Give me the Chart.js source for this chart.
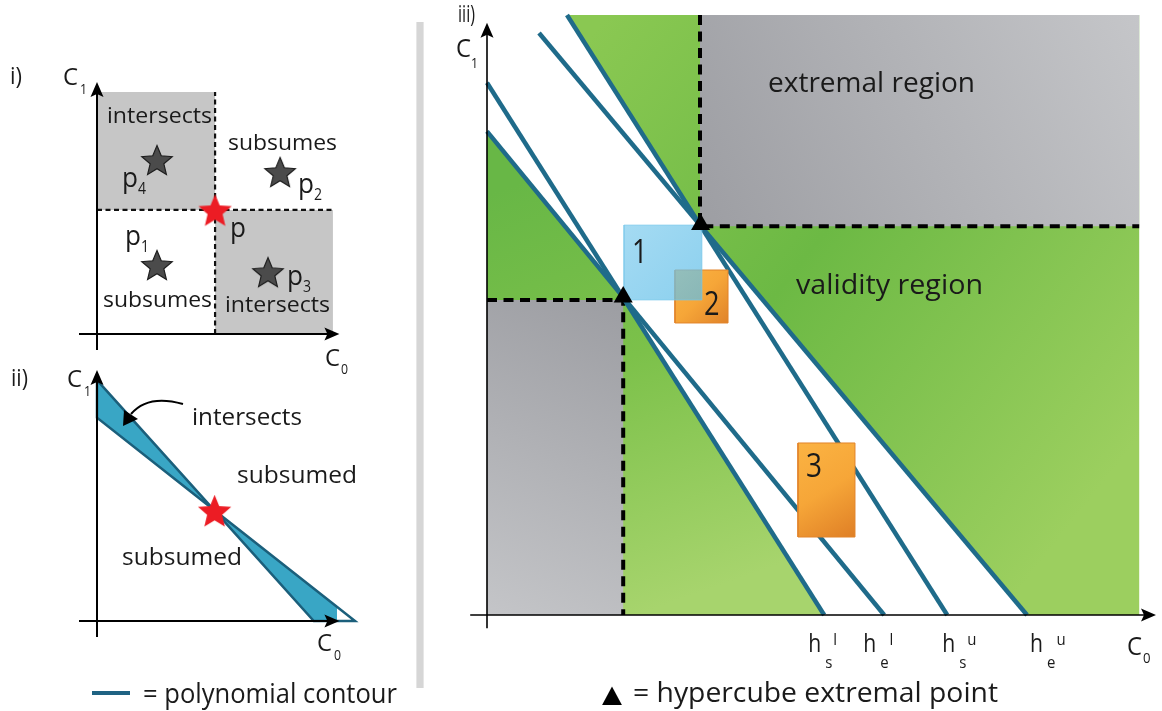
<!DOCTYPE html>
<html><head><meta charset="utf-8">
<script src="https://cdn.jsdelivr.net/npm/chart.js@4.4.1/dist/chart.umd.min.js"></script>
<style>
html,body{margin:0;padding:0;background:#fff;}
body{width:1162px;height:711px;position:relative;overflow:hidden;}
canvas{position:absolute;left:0;top:0;}
</style></head><body>
<canvas id="cI" width="1162" height="711"></canvas>
<canvas id="cII" width="1162" height="711"></canvas>
<canvas id="cIII" width="1162" height="711"></canvas>
<script>
// ===================== DATA =====================
// ---- Panel i (C0 x C1 plane) ----
const iPoint = [[4.92, 5.17]];                       // red star p
const iStarNames = ['p4', 'p2', 'p1', 'p3'];
const iStarX = [2.5, 7.63, 2.5, 7.125];
const iStarY = [7.25, 6.75, 2.875, 2.58];
const iGreyTopLeft = [[0, 5.17], [4.92, 5.17], [4.92, 10.08], [0, 10.08]];
const iGreyBottomRight = [[4.92, 0], [9.83, 0], [9.83, 5.17], [4.92, 5.17]];
const iDashV = [[4.92, 0], [4.92, 10.08]];
const iDashH = [[0, 5.17], [9.83, 5.17]];
const iRegionLabels = ['intersects', 'subsumes', 'subsumes', 'intersects'];
const iAxisX = [-0.75, 10.1];
const iAxisY = [-0.67, 10.5];

// ---- Panel ii ----
const iiUpperWedge = [[0, 10.04], [0, 8.47], [4.85, 4.65]];
const iiLowerWedge = [[4.85, 4.65], [9.034, 0], [10.75, 0]];
const iiPoint = [[4.9, 4.6]];
const iiAxisX = [-0.75, 10.1];
const iiAxisY = [-0.67, 10.46];

// ---- Panel iii ----
const hTickValues = [5.62, 6.62, 7.67, 9.0];
const hTickSub = ['s', 'e', 's', 'e'];
const hTickSup = ['l', 'l', 'u', 'u'];
const contourSl = [[0, 8.87], [5.62, 0]];
const contourEl = [[0, 8.06], [6.62, 0]];
const contourSu = [[1.333, 10], [7.67, 0]];
const contourEu = [[0.867, 9.7], [9.0, 0]];
const extremalPoints = [[2.27, 5.3], [3.56, 6.51]];
const validLower = [[0, 8.06], [2.25, 5.32], [5.62, 0], [0, 0]];
const validUpper = [[1.333, 10], [10.87, 10], [10.87, 0], [9.0, 0], [3.55, 6.5]];
const extremalUpper = [[3.55, 6.48], [10.87, 6.48], [10.87, 10], [3.55, 10]];
const extremalLower = [[0, 0], [2.27, 0], [2.27, 5.25], [0, 5.25]];
const dashLower = [[0, 5.25], [2.27, 5.25], [2.27, 0]];
const dashUpper = [[3.55, 10], [3.55, 6.48], [10.87, 6.48]];
const box1 = [[2.283, 5.25], [3.583, 5.25], [3.583, 6.5], [2.283, 6.5]];
const box2 = [[3.133, 4.867], [4.017, 4.867], [4.017, 5.75], [3.133, 5.75]];
const box3 = [[5.183, 1.3], [6.133, 1.3], [6.133, 2.867], [5.183, 2.867]];
const boxLabels = ['1', '2', '3'];
const iiiAxisX = [-0.28, 11.15];
const iiiAxisY = [-0.22, 9.87];

// ===================== HELPERS =====================
const W = 1162, H = 711;
const FONT = '"Open Sans","Noto Sans","DejaVu Sans",sans-serif';
const P = a => a.map(([x, y]) => ({x, y}));

function T(c, s, x, y, size, o = {}) {
  c.save();
  c.font = `${size}px ${o.font || FONT}`;
  c.fillStyle = o.color || '#1a1a1a';
  c.textAlign = 'left'; c.textBaseline = 'alphabetic';
  const m = c.measureText(s).width;
  const sx = o.w ? o.w / m : (o.sx || 0.88);
  c.translate(x, y); c.scale(sx, 1); c.fillText(s, 0, 0);
  c.restore();
  return x + m * sx;
}

function grad(stops, p0, p1) {
  return (ctx) => {
    const ch = ctx.chart;
    if (!ch.chartArea) return stops[0][1];
    const xs = ch.scales.x, ys = ch.scales.y;
    const g = ch.ctx.createLinearGradient(xs.getPixelForValue(p0[0]), ys.getPixelForValue(p0[1]),
                                          xs.getPixelForValue(p1[0]), ys.getPixelForValue(p1[1]));
    stops.forEach(([o, col]) => g.addColorStop(o, col));
    return g;
  };
}

function poly(pts, bg, extra = {}) {
  return Object.assign({data: P([...pts, pts[0]]), showLine: true, fill: 'shape', backgroundColor: bg,
    borderWidth: 0, borderColor: 'rgba(0,0,0,0)', pointRadius: 0, clip: false, tension: 0}, extra);
}
function line(pts, color, width, dash, extra = {}) {
  return Object.assign({data: P(pts), showLine: true, fill: false, borderColor: color, borderWidth: width,
    borderDash: dash || [], pointRadius: 0, clip: false, tension: 0, borderCapStyle: 'butt'}, extra);
}
function pts(data, style, radius, color, extra = {}) {
  return Object.assign({data: P(data), showLine: false, pointStyle: style, pointRadius: radius,
    backgroundColor: color, borderWidth: 0, clip: false}, extra);
}

function starImg(R, fill, stroke, ratio = 0.45) {
  const s = Math.ceil(2 * R + 4), cv = document.createElement('canvas');
  cv.width = cv.height = s;
  const g = cv.getContext('2d');
  g.translate(s / 2, s / 2 + R * 0.1);
  g.beginPath();
  for (let i = 0; i < 10; i++) {
    const r = i % 2 ? R * ratio : R, a = -Math.PI / 2 + i * Math.PI / 5;
    g.lineTo(r * Math.cos(a), r * Math.sin(a));
  }
  g.closePath(); g.fillStyle = fill; g.fill();
  if (stroke) { g.strokeStyle = stroke; g.lineWidth = 1.2; g.stroke(); }
  return cv;
}

function axes(c, chart, ax, ay, lw) {
  const xs = chart.scales.x, ys = chart.scales.y;
  const x0 = xs.getPixelForValue(0), y0 = ys.getPixelForValue(0);
  const xl = xs.getPixelForValue(ax[0]), xr = xs.getPixelForValue(ax[1]);
  const yb = ys.getPixelForValue(ay[0]), yt = ys.getPixelForValue(ay[1]);
  c.save(); c.strokeStyle = '#000'; c.fillStyle = '#000'; c.lineWidth = lw;
  c.beginPath(); c.moveTo(xl, y0); c.lineTo(xr - 8, y0); c.moveTo(x0, yb); c.lineTo(x0, yt + 8); c.stroke();
  const L = 15, Wd = 6.5;
  c.beginPath(); c.moveTo(xr, y0); c.lineTo(xr - L, y0 - Wd); c.lineTo(xr - L + 3, y0); c.lineTo(xr - L, y0 + Wd); c.closePath(); c.fill();
  c.beginPath(); c.moveTo(x0, yt); c.lineTo(x0 - Wd, yt + L); c.lineTo(x0, yt + L - 3); c.lineTo(x0 + Wd, yt + L); c.closePath(); c.fill();
  c.restore();
}

function layer(datasets) { const n = datasets.length; datasets.forEach((d, i) => d.order = n - i); return datasets; }

function make(id, datasets, area, xr, yr, plugin) {
  return new Chart(document.getElementById(id), {
    type: 'scatter',
    data: {datasets: layer(datasets)},
    options: {
      responsive: false, animation: false, events: [],
      layout: {padding: {left: area[0], top: area[1], right: W - area[2], bottom: H - area[3]}},
      scales: {x: {type: 'linear', min: xr[0], max: xr[1], display: false},
               y: {type: 'linear', min: yr[0], max: yr[1], display: false}},
      plugins: {legend: {display: false}, tooltip: {enabled: false}}
    },
    plugins: [plugin]
  });
}

// ===================== PANEL i =====================
const darkStar = starImg(16, '#4b4b4b', '#1e1e1e');
const redStar = starImg(17.5, '#ec1c24', null);
make('cI', [
  poly(iGreyTopLeft, '#c6c6c6'),
  poly(iGreyBottomRight, '#c6c6c6'),
  line(iDashV, '#111', 2.2, [5, 3.5]),
  line(iDashH, '#111', 2.2, [5, 3.5]),
  pts(iStarX.map((x, i) => [x, iStarY[i]]), darkStar, 10, '#4b4b4b'),
  pts(iPoint, redStar, 10, '#ec1c24')
], [97, 82, 337, 334], [0, 10], [0, 10.5], {
  id: 'panelI',
  afterDatasetsDraw(chart) {
    const c = chart.ctx, xs = chart.scales.x, ys = chart.scales.y;
    axes(c, chart, iAxisX, iAxisY, 2);
    T(c, 'i)', 10, 84, 23, {w: 12});
    T(c, 'C', 63, 85, 23, {w: 15}); T(c, '1', 80, 94, 14);
    T(c, 'C', 325, 366, 24, {w: 15}); T(c, '0', 341, 374, 14);
    T(c, iRegionLabels[0], 107, 123, 21, {w: 105});
    T(c, iRegionLabels[1], 228, 150, 21, {w: 109});
    T(c, iRegionLabels[2], 103, 307, 21, {w: 109});
    T(c, iRegionLabels[3], 225, 312, 21, {w: 105});
    const off = [[-35, 27], [18, 21], [-32, -20], [19, 13]];
    iStarNames.forEach((nm, i) => {
      const px = xs.getPixelForValue(iStarX[i]) + off[i][0], py = ys.getPixelForValue(iStarY[i]) + off[i][1];
      const e = T(c, nm[0], px, py, 27, {w: 16});
      T(c, nm.slice(1), e, py + 7, 16);
    });
    T(c, 'p', xs.getPixelForValue(iPoint[0][0]) + 15, ys.getPixelForValue(iPoint[0][1]) + 27, 27, {w: 16});
  }
});

// ===================== PANEL ii =====================
const wedgeStyle = {borderColor: '#1b5f7b', borderWidth: 2.5, borderJoinStyle: 'miter'};
make('cII', [
  poly(iiUpperWedge, '#39a6c5', wedgeStyle),
  poly(iiLowerWedge, '#39a6c5', wedgeStyle),
  pts(iiPoint, redStar, 10, '#ec1c24')
], [97, 369, 337, 621], [0, 10], [0, 10.5], {
  id: 'panelII',
  afterDatasetsDraw(chart) {
    const c = chart.ctx;
    axes(c, chart, iiAxisX, iiAxisY, 2);
    T(c, 'ii)', 11, 386, 23, {w: 17});
    T(c, 'C', 67, 387, 23, {w: 15}); T(c, '1', 84, 396, 14);
    T(c, 'C', 317, 651, 24, {w: 15}); T(c, '0', 334, 660, 14);
    T(c, 'intersects', 192, 425, 24, {w: 110});
    T(c, 'subsumed', 237, 483, 24, {w: 120});
    T(c, 'subsumed', 122, 565, 24, {w: 120});
    // curved arrow
    c.save(); c.strokeStyle = '#000'; c.fillStyle = '#000'; c.lineWidth = 2;
    c.beginPath(); c.moveTo(183, 404); c.quadraticCurveTo(148, 394, 131, 414); c.stroke();
    c.beginPath(); c.moveTo(123, 426); c.lineTo(124, 410); c.lineTo(138, 419); c.closePath(); c.fill();
    c.restore();
    // legend
    c.save(); c.strokeStyle = '#1f6383'; c.lineWidth = 4;
    c.beginPath(); c.moveTo(92, 693); c.lineTo(130, 693); c.stroke(); c.restore();
    T(c, '= polynomial contour', 143, 703, 27, {w: 254});
  }
});

// ===================== PANEL iii =====================
const greenLow = grad([[0, '#a7d46d'], [0.55, '#7cc14a'], [1, '#68b746']], [2.5, 0], [0, 7]);
const greenUp = grad([[0, '#8ac852'], [0.45, '#6cb944'], [1, '#9ccf5f']], [2, 10], [10.9, 3]);
const greyUp = grad([[0, '#9d9ea3'], [1, '#c5c6c9']], [3.6, 6.5], [10.9, 10]);
const greyLow = grad([[0, '#c4c5c8'], [1, '#9c9da2']], [0, 0], [2.3, 5.3]);
const orange2 = grad([[0, '#fbb343'], [0.5, '#f6a638'], [1, '#e0832a']], [3.133, 5.75], [4.017, 4.867]);
const orange3 = grad([[0, '#fbb343'], [0.5, '#f6a638'], [1, '#df7f26']], [5.183, 2.867], [6.133, 1.3]);
const blueBox = grad([[0, 'rgba(130,205,238,0.72)'], [1, 'rgba(95,190,232,0.72)']], [2.283, 6.5], [3.583, 5.25]);
const CONTOUR = '#1f6b8a';
const boxBorder = {borderColor: '#e2842b', borderWidth: 1};

make('cIII', [
  poly(validLower, greenLow),
  poly(validUpper, greenUp),
  poly(extremalLower, greyLow),
  poly(extremalUpper, greyUp),
  line(dashLower, '#000', 4, [10, 6.5]),
  line(dashUpper, '#000', 4, [10, 6.5]),
  line(contourSl, CONTOUR, 4.5),
  line(contourEl, CONTOUR, 4.5),
  line(contourSu, CONTOUR, 4.5),
  line(contourEu, CONTOUR, 4.5),
  poly(box2, orange2, boxBorder),
  poly(box1, blueBox, {borderColor: 'rgba(120,200,235,0.6)', borderWidth: 1}),
  poly(box3, orange3, boxBorder),
  pts(extremalPoints, 'triangle', 11, '#000')
], [487, 15, 1147, 615], [0, 11], [0, 10], {
  id: 'panelIII',
  afterDatasetsDraw(chart) {
    const c = chart.ctx, xs = chart.scales.x;
    // separator bar
    c.save(); c.fillStyle = '#d6d6d6'; c.fillRect(417, 22, 6, 666);
    c.fillStyle = '#e6e6e6'; c.fillRect(416, 22, 1, 666); c.fillRect(423, 22, 1, 666); c.restore();
    axes(c, chart, iiiAxisX, iiiAxisY, 1.6);
    T(c, 'iii)', 458, 22, 23, {w: 17});
    T(c, 'C', 456, 57, 25, {w: 15}); T(c, '1', 471, 68, 14);
    T(c, 'C', 1127, 655, 26, {w: 15}); T(c, '0', 1143, 663, 15);
    T(c, 'extremal region', 768, 92, 28, {w: 207});
    T(c, 'validity region', 796, 294, 28, {w: 187});
    T(c, boxLabels[0], 632, 263, 32, {sx: 0.85});
    T(c, boxLabels[1], 704, 315, 32, {sx: 0.85});
    T(c, boxLabels[2], 806, 477, 33, {sx: 0.85});
    const hOff = [-16, -21, -5, 3];
    hTickValues.forEach((v, i) => {
      const x = xs.getPixelForValue(v) + hOff[i];
      const e = T(c, 'h', x, 652, 25, {w: 13});
      const e2 = T(c, hTickSub[i], e + 4, 668, 17);
      T(c, hTickSup[i], e2 + 1, 645, 17);
    });
    T(c, '\u25B2', 602, 702, 24, {font: '"DejaVu Sans",sans-serif', w: 20, color: '#000'});
    T(c, '= hypercube extremal point', 633, 702, 27, {w: 365});
  }
});
</script>
</body></html>
